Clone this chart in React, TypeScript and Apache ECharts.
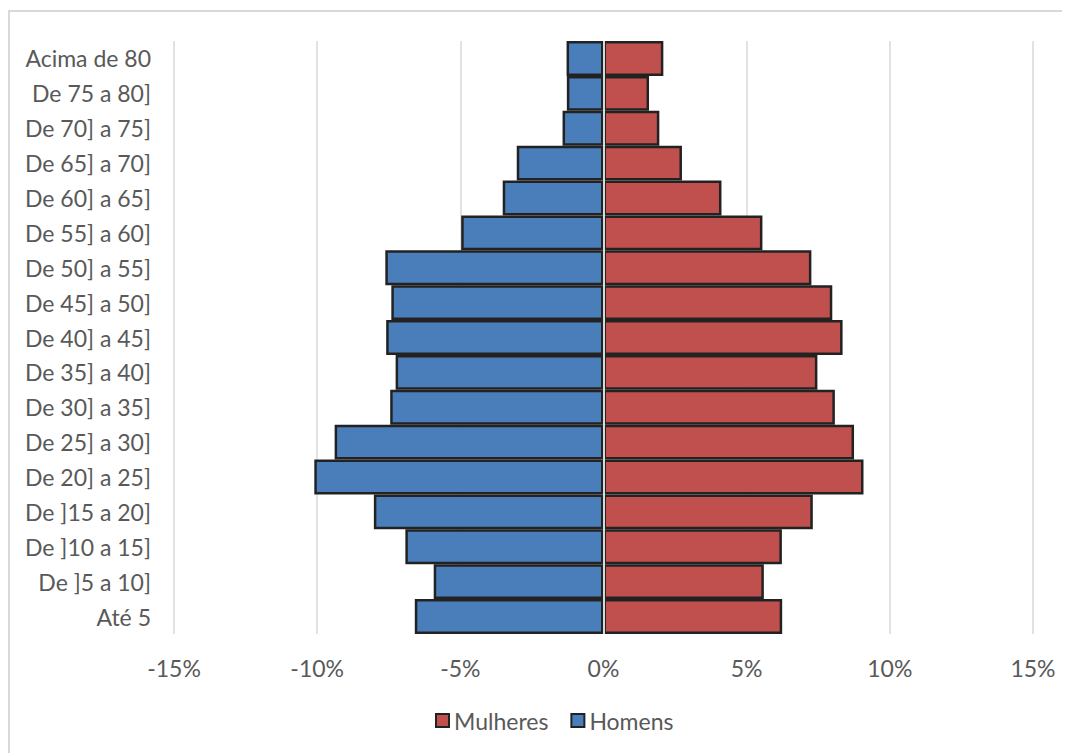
import React, { useEffect, useRef } from "react";
import * as echarts from "echarts";

const categories = [
  "Até 5",
  "De ]5 a 10]",
  "De ]10 a 15]",
  "De ]15 a 20]",
  "De 20] a 25]",
  "De 25] a 30]",
  "De 30] a 35]",
  "De 35] a 40]",
  "De 40] a 45]",
  "De 45] a 50]",
  "De 50] a 55]",
  "De 55] a 60]",
  "De 60] a 65]",
  "De 65] a 70]",
  "De 70] a 75]",
  "De 75 a 80]",
  "Acima de 80",
];

// percentages, bottom (Até 5) to top (Acima de 80)
const mulheres = [6.24, 5.6, 6.23, 7.31, 9.08, 8.75, 8.08, 7.47, 8.35, 7.99, 7.26, 5.55, 4.12, 2.74, 1.95, 1.59, 2.09];
const homens = [6.59, 5.93, 6.92, 8.02, 10.1, 9.39, 7.45, 7.26, 7.59, 7.41, 7.62, 4.97, 3.52, 3.03, 1.43, 1.28, 1.29];

const xTicks = { min: -15, max: 15, interval: 5 };

const FONT = "Lato";
const TEXT = "#595959";

export default function App() {
  const ref = useRef<HTMLDivElement>(null);
  useEffect(() => {
    if (!ref.current) return;
    document.body.style.overflow = "hidden";
    const chart = echarts.init(ref.current, undefined, { renderer: "svg" });
    chart.setOption({
      animation: false,
      textStyle: { fontFamily: FONT },
      graphic: [
        {
          type: "line",
          shape: { x1: 0, y1: 3, x2: 1062, y2: 3 },
          style: { stroke: "#d9d9d9", lineWidth: 2 },
          silent: true,
        },
        {
          type: "line",
          shape: { x1: 1, y1: 3, x2: 1, y2: 745 },
          style: { stroke: "#d9d9d9", lineWidth: 2 },
          silent: true,
        },
      ],
      grid: { left: 166, right: 37, top: 33, bottom: 119, containLabel: false },
      legend: {
        data: ["Mulheres", "Homens"],
        left: 422,
        top: 696,
        itemWidth: 13,
        itemHeight: 13,
        itemGap: 22,
        icon: "rect",
        textStyle: { color: TEXT, fontSize: 23, fontFamily: FONT },
      },
      xAxis: {
        type: "value",
        min: xTicks.min,
        max: xTicks.max,
        interval: xTicks.interval,
        axisLine: { show: false },
        axisTick: { show: false },
        splitLine: { show: true, lineStyle: { color: "#d9d9d9", width: 1.5 } },
        axisLabel: {
          color: TEXT,
          fontSize: 23,
          fontFamily: FONT,
          margin: 22,
          formatter: (v: number) => `${v}%`,
        },
      },
      yAxis: {
        type: "category",
        data: categories,
        axisLine: { show: false },
        axisTick: { show: false },
        splitLine: { show: false },
        axisLabel: { color: TEXT, fontSize: 23, fontFamily: FONT, margin: 23 },
      },
      series: [
        {
          name: "Mulheres",
          type: "bar",
          data: mulheres,
          barCategoryGap: "0%",
          barGap: "-100%",
          itemStyle: { color: "#C0504D", borderColor: "#222222", borderWidth: 2.5 },
        },
        {
          name: "Homens",
          type: "bar",
          data: homens.map((v) => -v),
          barCategoryGap: "0%",
          barGap: "-100%",
          itemStyle: { color: "#4A7EBB", borderColor: "#222222", borderWidth: 2.5 },
          markLine: {
            silent: true,
            symbol: "none",
            label: { show: false },
            lineStyle: { color: "#d9d9d9", width: 2, type: "solid" },
            data: [{ xAxis: 0 }],
            z: 10,
          },
        },
      ],
    });
    return () => chart.dispose();
  }, []);
  return <div ref={ref} style={{ width: 1062, height: 745 }} />;
}
